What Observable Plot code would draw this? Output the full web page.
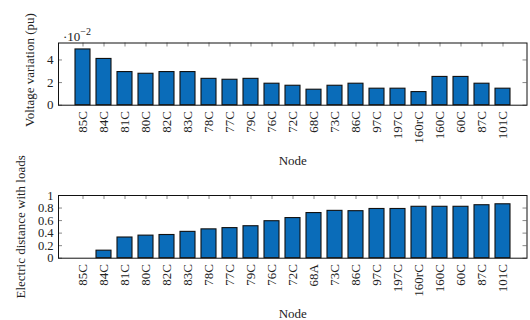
<!DOCTYPE html>
<html><head><meta charset="utf-8">
<script src="https://cdn.jsdelivr.net/npm/d3@7"></script>
<script src="https://cdn.jsdelivr.net/npm/@observablehq/plot@0.6"></script>
<style>
body{margin:0;background:#fff;font-family:"Liberation Serif","Times New Roman","DejaVu Serif",serif;}
#wrap{position:relative;width:530px;height:320px;overflow:hidden;}
#wrap svg{overflow:visible;background:none;}
.panel{position:absolute;left:0;}
#exp{position:absolute;left:63px;top:28px;font-size:13px;line-height:1;color:#222;font-family:"Liberation Serif","Times New Roman","DejaVu Serif",serif;}
#exp sup{font-size:10px;position:relative;top:-1px;}
</style></head><body>
<div id="wrap">
  <div class="panel" id="top" style="top:0"></div>
  <div class="panel" id="bottom" style="top:160px"></div>
  <div id="exp">·10<sup>−2</sup></div>
</div>
<script>
const nodesTop = ["85C","84C","81C","80C","82C","83C","78C","77C","79C","76C","72C","68C","73C","86C","97C","197C","160rC","160C","60C","87C","101C"];
const voltageVariation = [4.93,4.09,2.93,2.78,2.93,2.93,2.33,2.25,2.33,1.9,1.72,1.37,1.72,1.9,1.46,1.46,1.16,2.5,2.5,1.9,1.46]; // x 10^-2 pu
const nodesBottom = ["85C","84C","81C","80C","82C","83C","78C","77C","79C","76C","72C","68A","73C","86C","97C","197C","160rC","160C","60C","87C","101C"];
const electricDistance = [0,0.12,0.33,0.36,0.37,0.42,0.46,0.48,0.51,0.59,0.64,0.72,0.755,0.75,0.785,0.785,0.82,0.82,0.82,0.845,0.86];
const yTicksTop = [0,2,4];
const yTicksBottom = [0,0.2,0.4,0.6,0.8,1];
const yLabelTop = "Voltage variation (pu)";
const yLabelBottom = "Electric distance with loads";
const xLabel = "Node";

const W = 530, H = 160, ML = 58, MR = 3.5;
const FONT = "'Liberation Serif', 'Times New Roman', 'DejaVu Serif', serif";
const barFill = "#0a6cb9";
const tickLen = 4;

function panel({nodes, values, yDomain, yTicks, yLabel, marginTop, marginBottom, yLabelDx, yLabelDy, yTickFont}) {
  const data = nodes.map((n, i) => ({node: n, value: values[i]}));
  const plotW = W - ML - MR;
  const plotH = H - marginTop - marginBottom;
  return Plot.plot({
    width: W, height: H,
    marginLeft: ML, marginRight: MR, marginTop, marginBottom,
    style: {fontFamily: FONT, fontSize: "13px", color: "#222", background: "none", overflow: "visible"},
    x: {type: "band", domain: nodes, paddingInner: 0.3, paddingOuter: 0.555, axis: null},
    y: {domain: yDomain, axis: null},
    marks: [
      // inward ticks: top, left, right
      Plot.ruleX(nodes, {x: d => d, stroke: "#888", insetBottom: plotH - tickLen}),
      Plot.ruleY(yTicks, {y: d => d, stroke: "#888", insetRight: plotW - tickLen}),
      Plot.ruleY(yTicks, {y: d => d, stroke: "#888", insetLeft: plotW - tickLen}),
      Plot.barY(data, {x: "node", y: "value", fill: barFill, stroke: "#111", strokeWidth: 1.1}),
      Plot.text(yTicks, {y: d => d, text: d => String(d), frameAnchor: "left", textAnchor: "end", lineAnchor: "middle", dx: -5, fontSize: yTickFont, fontFamily: FONT, fill: "#222"}),
      Plot.text(nodes, {x: d => d, frameAnchor: "bottom", rotate: -90, textAnchor: "end", lineAnchor: "middle", dy: 6, fontSize: 13, fontFamily: FONT, fill: "#222"}),
      Plot.text([xLabel], {frameAnchor: "bottom", textAnchor: "middle", lineAnchor: "middle", dy: 56, fontSize: 13, fontFamily: FONT, fill: "#222"}),
      Plot.text([yLabel], {frameAnchor: "left", rotate: -90, textAnchor: "middle", lineAnchor: "middle", dx: yLabelDx, dy: yLabelDy, fontSize: 13, fontFamily: FONT, fill: "#222"}),
      Plot.frame({stroke: "#111", strokeWidth: 1})
    ]
  });
}

document.getElementById("top").append(panel({
  nodes: nodesTop, values: voltageVariation, yDomain: [0, 5.5], yTicks: yTicksTop,
  yLabel: yLabelTop, marginTop: 42.5, marginBottom: 55.3, yLabelDx: -29, yLabelDy: -4, yTickFont: 13
}));
document.getElementById("bottom").append(panel({
  nodes: nodesBottom, values: electricDistance, yDomain: [0, 1], yTicks: yTicksBottom,
  yLabel: yLabelBottom, marginTop: 35, marginBottom: 62.3, yLabelDx: -38, yLabelDy: 0, yTickFont: 12.5
}));
</script>
</body></html>
